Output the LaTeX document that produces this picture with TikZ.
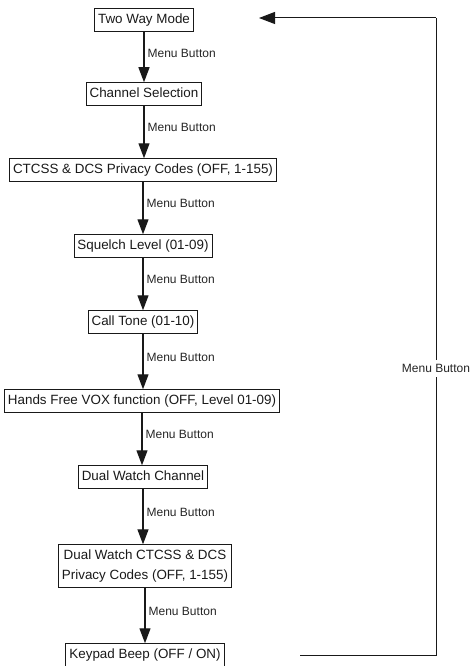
\documentclass[tikz,border=0pt]{standalone}
\usepackage{fontspec}
\setmainfont{Liberation Sans}
\usetikzlibrary{arrows.meta}
\begin{document}
\begin{tikzpicture}[x=1pt,y=-1pt,
  boxbase/.style={draw=black!90, line width=0.9pt, inner xsep=3.5pt, inner ysep=5pt,
    font=\fontsize{13.4}{20}\selectfont, text=black!90, align=center},
  box/.style={boxbase, text height=9.7pt, text depth=2.9pt},
  flow/.style={draw=black!90, line width=1.3pt, -{Triangle[width=11pt,length=15pt]}},
  lbl/.style={font=\fontsize{12}{14}\selectfont, text=black!85, right=2pt, inner sep=1pt},
  loop/.style={draw=black!90, line width=1pt}]
\useasboundingbox (0,0) rectangle (471,666);
\node[box] (twoway) at (144,20) {Two Way Mode};
\node[box] (chan) at (144,94) {Channel Selection};
\node[box] (ctcss) at (143,170) {CTCSS \& DCS Privacy Codes (OFF, 1-155)};
\node[box] (squelch) at (143,246) {Squelch Level (01-09)};
\node[box] (call) at (143,322) {Call Tone (01-10)};
\node[box] (hands) at (142,401) {Hands Free VOX function (OFF, Level 01-09)};
\node[box] (dwchan) at (143,477) {Dual Watch Channel};
\node[boxbase] (dwctcss) at (145,566) {Dual Watch CTCSS \& DCS\\Privacy Codes (OFF, 1-155)};
\node[box] (keypad) at (145,655) {Keypad Beep (OFF / ON)};
\foreach \a/\b in {twoway/chan, chan/ctcss, ctcss/squelch, squelch/call, call/hands, hands/dwchan, dwchan/dwctcss, dwctcss/keypad}{
  \draw[flow] (\a.south) -- (\a.south |- \b.north) node[lbl, pos=0.42] {Menu Button};
}
\coordinate (retstart) at (300,655);
\coordinate (retcorner1) at (436,655);
\coordinate (retcorner2) at (436,18);
\coordinate (retend) at (259,18);
\draw[loop] (retstart) -- (retcorner1) -- node[fill=white, font=\fontsize{12}{14}\selectfont, text=black!85, inner sep=4pt, pos=0.45] (retlbl) {Menu Button} (retcorner2);
\draw[loop, -{Triangle[width=12pt,length=16pt]}] (retcorner2) -- (retend);
\end{tikzpicture}
\end{document}
